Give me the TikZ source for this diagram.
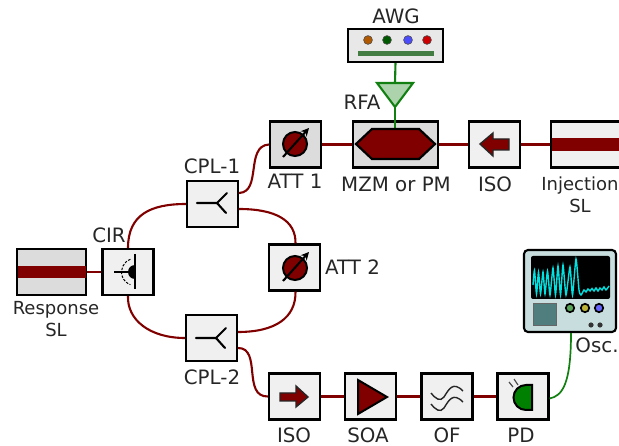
\documentclass[tikz,border=0pt]{standalone}
\usepackage{fontspec}
\setmainfont{DejaVu Sans}
\usepackage{xcolor}
\definecolor{fibred}{RGB}{128,0,0}
\definecolor{rfgreen}{RGB}{17,128,17}
\definecolor{boxlight}{RGB}{240,240,240}
\definecolor{boxgray}{RGB}{220,220,220}
\definecolor{oscbody}{RGB}{200,222,222}
\definecolor{oscpanel}{RGB}{80,125,125}
\definecolor{osctrace}{RGB}{0,225,225}
\usetikzlibrary{arrows.meta,calc}

\begin{document}
\begin{tikzpicture}[
  x=1pt,y=-1pt,
  devbox/.style={draw=black,line width=2.1pt,fill=boxlight,minimum width=51pt,minimum height=46pt,inner sep=0pt},
  graybox/.style={devbox,fill=boxgray},
  devlabel/.style={font=\fontsize{19.8}{22}\selectfont,text=black!85,inner sep=0pt},
  smalllabel/.style={font=\fontsize{18}{22}\selectfont,text=black!85,inner sep=0pt,align=center},
  fiber/.style={draw=fibred,line width=2.1pt},
  rfline/.style={draw=rfgreen,line width=2.1pt},
  symline/.style={draw=black,line width=2.1pt},
  band/.style={fill=fibred,draw=none}
]
  \useasboundingbox (0,0) rectangle (619,446);
  \clip (0,0) rectangle (619,446);
  % Top row: AWG, modulator, isolator, injection laser
  \node[graybox,minimum width=95pt,minimum height=33pt,fill=black!9] (awg) at (395.5,45.5) {};
  \node[graybox,minimum width=85pt] (mzm) at (395.5,144.5) {};
  \node[devbox] (iso1) at (494.5,144.5) {};
  \node[devbox,minimum width=90pt,anchor=west] (inj) at (550,144.5) {};
  \node[graybox] (att1) at (295.5,144.5) {};
  % Loop: circulator, couplers, second attenuator
  \node[graybox,minimum width=69pt] (resp) at (51.5,272) {};
  \node[devbox] (cir) at (128,272) {};
  \node[devbox] (cpl1) at (212.5,204) {};
  \node[devbox] (cpl2) at (211.5,338) {};
  \node[devbox] (att2) at (294.5,267.5) {};
  % Bottom row
  \node[devbox] (iso2) at (294.5,396.5) {};
  \node[devbox] (soa) at (370.5,396.5) {};
  \node[devbox] (of) at (447,396.5) {};
  \node[devbox] (pd) at (523,396.5) {};
  \node[draw=black,line width=2.1pt,fill=oscbody,rounded corners=4pt,minimum width=92pt,minimum height=82pt,inner sep=0pt] (osc) at (570,291) {};
  % RF amplifier
  \coordinate (rfain) at (395,83);
  \coordinate (rfaout) at (395,107);
  \filldraw[rfgreen,line width=2.1pt,fill=rfgreen!35,line join=miter] (377,83) -- (413,83) -- (rfaout) -- cycle;
  % Fibers
  \draw[fiber] (resp.east) -- (cir.west);
  \draw[fiber] (cir.north) .. controls (128,215) and (150,204) .. (cpl1.west);
  \draw[fiber] (cir.south) .. controls (127,320) and (150,338) .. (cpl2.west);
  \draw[fiber] ([yshift=11pt]cpl1.east) .. controls (262,192) and (245,146) .. (att1.west);
  \draw[fiber] ([yshift=-5pt]cpl1.east) .. controls (275,209) and (296,220) .. ([xshift=1pt]att2.north);
  \draw[fiber] ([xshift=1pt]att2.south) .. controls (296,318) and (275,332) .. ([yshift=6pt]cpl2.east);
  \draw[fiber] ([yshift=-10pt]cpl2.east) .. controls (262,348) and (242,397) .. (iso2.west);
  \draw[fiber] (att1.east) -- (mzm.west);
  \draw[fiber] (mzm.east) -- (iso1.west);
  \draw[fiber] (iso1.east) -- (inj.west);
  \draw[fiber] (iso2.east) -- (soa.west);
  \draw[fiber] (soa.east) -- (of.west);
  \draw[fiber] (of.east) -- (pd.west);
  % RF lines
  \draw[rfline] (awg.south) -- (rfain);
  \draw[rfline] (rfaout) -- (395,129);
  \draw[rfline,line width=1.7pt] ([yshift=-2pt]pd.east) .. controls (562,396) and (571,385) .. ([xshift=1pt]osc.south);
  % AWG front panel
  \foreach \xx/\cc in {368/orange!70!black,387/green!35!black,408/blue!70!white,427/red!80!black}
    \filldraw[black!70,fill=\cc,line width=0.6pt] (\xx,40) circle (4.4);
  \fill[rfgreen!70!black,opacity=0.75] (358,51) rectangle (434,56);
  % Modulator
  \filldraw[fibred,draw=black,line width=2.2pt] (356,144) -- (372,129) -- (419,129) -- (435,144) -- (419,159) -- (372,159) -- cycle;
  % Isolator arrows
  \filldraw[fibred,draw=black!85,line width=1.4pt] (480,144) -- (493,133) -- (493,139) -- (509,139) -- (509,150) -- (493,150) -- (493,156) -- cycle;
  \filldraw[fibred,draw=black!85,line width=1.4pt] (308,397) -- (296,386) -- (296,393) -- (280,393) -- (280,401) -- (296,401) -- (296,407) -- cycle;
  % Lasers
  \fill[band] (18,266) rectangle (86,278);
  \fill[band] (552,138) rectangle (619,151);
  % Attenuators
  \foreach \xx/\yy in {295/144,295/268}{
    \filldraw[fibred,draw=black,line width=2pt] (\xx,\yy) circle (12);
    \draw[symline,-{Stealth[length=8pt,width=8pt]}] (\xx-12,\yy+13) -- (\xx+14,\yy-16);
  }
  % Couplers
  \foreach \xx/\yy in {197/203,196/338}{
    \draw[symline,line cap=round] (\xx,\yy) -- (\xx+20,\yy) -- (\xx+30,\yy-10);
    \draw[symline,line cap=round] (\xx+20,\yy) -- (\xx+29,\yy+10);
  }
  % Circulator
  \fill[black] (135,265) arc (270:90:7) -- cycle;
  \draw[symline,line width=1.8pt] (135,254) -- (135,289);
  \draw[symline,line width=1.8pt] (114,272) -- (135,272);
  \draw[black,line width=1pt,dash pattern=on 2.5pt off 1.5pt] (130.4,259.3) arc (250:110:13.5);
  % SOA
  \filldraw[fibred,draw=black,line width=2pt] (358,380) -- (387,397) -- (358,414) -- cycle;
  % Optical filter
  \foreach \dy in {0,11}
    \draw[black!85,line width=1.4pt] (431,393+\dy) .. controls (436,399+\dy) and (440,402+\dy) .. (444,397+\dy) .. controls (449,389+\dy) and (453,381+\dy) .. (463,391+\dy);
  % Photodiode
  \filldraw[green!50!black,draw=black,line width=2pt] (532,385) -- (532,410) -- (526,410) arc (90:270:12.5) -- cycle;
  \draw[black!70,line width=1.2pt] (509,382) -- (513,387) (514,379) -- (518,385);
  % Oscilloscope
  \fill[black,rounded corners=2pt] (531,256) rectangle (610,299);
  \draw[osctrace,line width=1.4pt] plot[smooth,tension=0.35] coordinates {(533,285) (534.5,270) (536.5,294) (538.5,272) (540.5,294) (543,272) (545,294) (547.5,271) (550,295) (553,268) (555.5,295) (558,266) (560.5,295) (563,265) (566,295) (570,267) (572.5,295) (576,259) (579,290) (581,295) (584,290) (586,292) (588,289) (590,291) (592,288.5) (594,291) (596,288) (598,291) (600,288) (602,290) (604,287) (606,290) (609,286)};
  \filldraw[oscpanel,draw=black!60,line width=0.9pt] (533,303) rectangle (556,325);
  \foreach \xx/\cc in {570/green!30!gray,585/yellow!70!black,599/blue!60!white}
    \filldraw[\cc,draw=black,line width=1.7pt] (\xx,308) circle (4.2);
  \fill[black!80] (591,325) circle (2.6) (600,325) circle (2.6);
  % Labels
  \node[devlabel] (awglab) at (396,16) {AWG};
  \node[devlabel] (rfalab) at (362,102) {RFA};
  \node[devlabel] (mzmlab) at (396,184) {MZM or PM};
  \node[devlabel] (iso1lab) at (495,184) {ISO};
  \node[smalllabel] (injlab) at (580,195) {Injection\\SL};
  \node[devlabel] (att1lab) at (295,181) {ATT 1};
  \node[devlabel,anchor=west] (att2lab) at (325,267) {ATT 2};
  \node[devlabel] (cpl1lab) at (212,166) {CPL-1};
  \node[devlabel] (cpl2lab) at (212,377) {CPL-2};
  \node[devlabel] (cirlab) at (109,235) {CIR};
  \node[smalllabel] (resplab) at (56,319) {Response\\SL};
  \node[devlabel] (iso2lab) at (294,435) {ISO};
  \node[devlabel] (soalab) at (368,435) {SOA};
  \node[devlabel] (oflab) at (447,435) {OF};
  \node[devlabel] (pdlab) at (521,435) {PD};
  \node[devlabel] (osclab) at (597,345) {Osc.};
\end{tikzpicture}
\end{document}
